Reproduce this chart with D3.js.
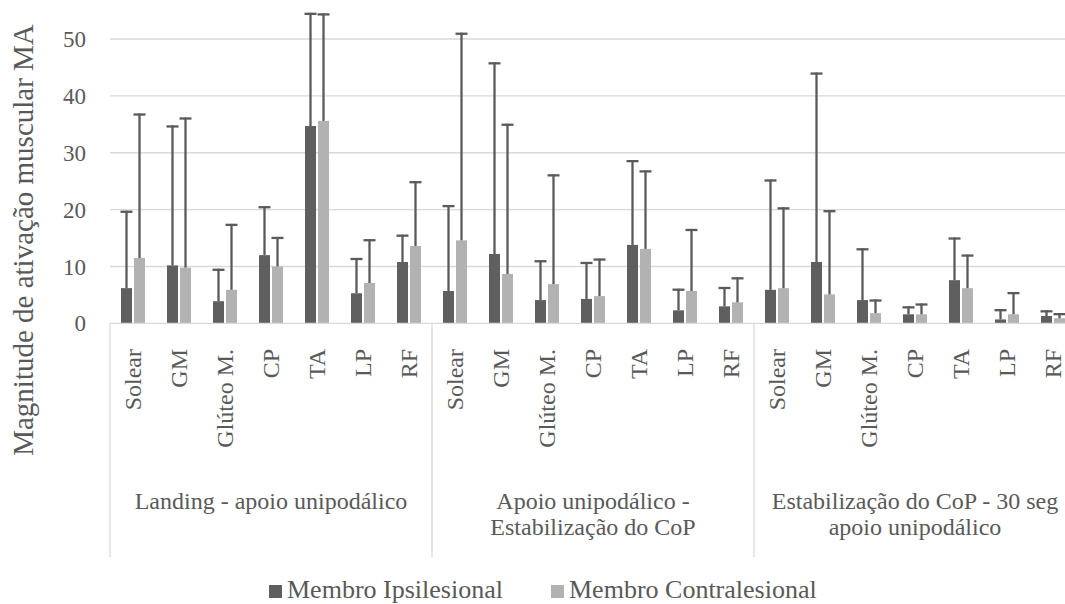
<!DOCTYPE html>
<html>
<head>
<meta charset="utf-8">
<script src="https://cdn.jsdelivr.net/npm/d3@7"></script>
<style>
  html, body { margin: 0; padding: 0; background: #fff; }
</style>
</head>
<body>
<svg id="chart" width="1065" height="604"></svg>
<script>
// ---------- data ----------
const groups = ["Landing - apoio unipodálico", "Apoio unipodálico - Estabilização do CoP", "Estabilização do CoP - 30 seg apoio unipodálico"];
const groupLines = [["Landing - apoio unipodálico"], ["Apoio unipodálico -", "Estabilização do CoP"], ["Estabilização do CoP - 30 seg", "apoio unipodálico"]];
const muscles = ["Solear", "GM", "Glúteo M.", "CP", "TA", "LP", "RF"];
const seriesNames = ["Membro Ipsilesional", "Membro Contralesional"];
const seriesColors = ["#5f5f5f", "#b2b2b2"];

// means per group (7 muscles each)
const ipsiMean = [
  [6.2, 10.2, 3.9, 12.0, 34.7, 5.3, 10.8],
  [5.7, 12.2, 4.1, 4.3, 13.8, 2.3, 3.0],
  [5.9, 10.8, 4.1, 1.6, 7.6, 0.7, 1.3]
];
const contraMean = [
  [11.5, 9.8, 5.9, 10.0, 35.6, 7.1, 13.6],
  [14.6, 8.7, 6.9, 4.8, 13.1, 5.7, 3.7],
  [6.2, 5.1, 1.8, 1.6, 6.2, 1.6, 0.9]
];
// standard deviations (plus error bars)
const ipsiSD = [
  [13.6, 24.6, 5.7, 8.6, 19.9, 6.2, 4.8],
  [15.1, 33.7, 7.0, 6.5, 14.9, 3.8, 3.4],
  [19.4, 33.3, 9.1, 1.4, 7.5, 1.8, 1.0]
];
const contraSD = [
  [25.4, 26.4, 11.6, 5.2, 18.9, 7.7, 11.4],
  [36.5, 26.4, 19.3, 6.6, 13.8, 10.9, 4.4],
  [14.2, 14.8, 2.4, 1.9, 5.9, 3.9, 0.9]
];
const yTicks = [0, 10, 20, 30, 40, 50];

// ---------- layout ----------
const FONT = "Liberation Serif";
const svg = d3.select("#chart");
const textColor = "#595959";
const gridColor = "#d9d9d9";
const plotLeft = 110, plotRight = 1076;
const y0px = 323.4, y50px = 39;

const rows = [];
groups.forEach((g, gi) => muscles.forEach((m, mi) => {
  rows.push({ key: gi + "|" + m, gi, mi, muscle: m,
    vals: [
      { s: 0, v: ipsiMean[gi][mi], e: ipsiSD[gi][mi] },
      { s: 1, v: contraMean[gi][mi], e: contraSD[gi][mi] }
    ] });
}));

const x0 = d3.scaleBand().domain(rows.map(r => r.key)).range([plotLeft, plotRight]).padding(0);
const x1 = d3.scaleBand().domain([0, 1]).range([0, x0.bandwidth()])
  .paddingInner(2 / 13).paddingOuter(11 / 13);
const xg = d3.scaleBand().domain(d3.range(groups.length)).range([plotLeft, plotRight]).padding(0);
const y = d3.scaleLinear().domain([0, 50]).range([y0px, y50px]);

// gridlines
svg.append("g").selectAll("line").data(yTicks.filter(t => t > 0)).join("line")
  .attr("x1", plotLeft).attr("x2", plotRight)
  .attr("y1", d => y(d)).attr("y2", d => y(d))
  .attr("stroke", gridColor).attr("stroke-width", 1.3);

// y tick labels
svg.append("g").selectAll("text").data(yTicks).join("text")
  .attr("x", 86).attr("y", d => y(d)).attr("dy", "0.35em")
  .attr("text-anchor", "end").attr("font-size", 23).attr("fill", textColor)
  .style("font-family", FONT)
  .text(d => d);

// y title
svg.append("text")
  .attr("transform", `translate(33,240) rotate(-90)`)
  .attr("text-anchor", "middle").attr("font-size", 29).attr("fill", textColor)
  .style("font-family", FONT)
  .text("Magnitude de ativação muscular MA");

// bars
const cat = svg.append("g").selectAll("g").data(rows).join("g")
  .attr("transform", d => `translate(${x0(d.key)},0)`);
cat.selectAll("rect").data(d => d.vals).join("rect")
  .attr("x", d => x1(d.s)).attr("width", x1.bandwidth())
  .attr("y", d => y(d.v)).attr("height", d => y(0) - y(d.v))
  .attr("fill", d => seriesColors[d.s]);

// error bars
const errColor = "#5a5a5a";
cat.selectAll("line.err").data(d => d.vals).join("line").attr("class", "err")
  .attr("x1", d => x1(d.s) + x1.bandwidth() / 2).attr("x2", d => x1(d.s) + x1.bandwidth() / 2)
  .attr("y1", d => y(d.v)).attr("y2", d => y(d.v + d.e))
  .attr("stroke", errColor).attr("stroke-width", 2.3);
cat.selectAll("line.cap").data(d => d.vals).join("line").attr("class", "cap")
  .attr("x1", d => x1(d.s) + x1.bandwidth() / 2 - 6).attr("x2", d => x1(d.s) + x1.bandwidth() / 2 + 6)
  .attr("y1", d => y(d.v + d.e) + 1).attr("y2", d => y(d.v + d.e) + 1)
  .attr("stroke", errColor).attr("stroke-width", 2.3);

// x axis baseline
svg.append("line").attr("x1", plotLeft).attr("x2", plotRight)
  .attr("y1", y(0)).attr("y2", y(0)).attr("stroke", gridColor).attr("stroke-width", 1.3);

// group separators (vertical)
const sepX = [plotLeft].concat(d3.range(groups.length).map(i => xg(i) + xg.bandwidth()));
svg.append("g").selectAll("line").data(sepX).join("line")
  .attr("x1", d => d).attr("x2", d => d)
  .attr("y1", y(0)).attr("y2", 557)
  .attr("stroke", gridColor).attr("stroke-width", 1.3);

// category labels (rotated)
svg.append("g").selectAll("text").data(rows).join("text")
  .attr("transform", d => `translate(${x0(d.key) + x0.bandwidth() / 2 + 8},349) rotate(-90)`)
  .attr("text-anchor", "end").attr("font-size", 24).attr("fill", textColor)
  .style("font-family", FONT)
  .text(d => d.muscle);

// group labels
const gl = svg.append("g").selectAll("text").data(groupLines).join("text")
  .attr("x", (d, i) => xg(i) + xg.bandwidth() / 2)
  .attr("y", 509).attr("text-anchor", "middle").attr("font-size", 24).attr("fill", textColor)
  .style("font-family", FONT);
gl.selectAll("tspan").data(d => d).join("tspan")
  .attr("x", function () { return d3.select(this.parentNode).attr("x"); })
  .attr("dy", (d, i) => i === 0 ? 0 : 26)
  .text(d => d);

// legend
const legendX = [269, 551];
const leg = svg.append("g").selectAll("g").data(seriesNames).join("g")
  .attr("transform", (d, i) => `translate(${legendX[i]},0)`);
leg.append("rect").attr("x", 0).attr("y", 585).attr("width", 13).attr("height", 13)
  .attr("fill", (d, i) => seriesColors[i]);
leg.append("text").attr("x", 18).attr("y", 597.5).attr("font-size", 26).attr("fill", textColor)
  .style("font-family", FONT)
  .text(d => d);
</script>
</body>
</html>
